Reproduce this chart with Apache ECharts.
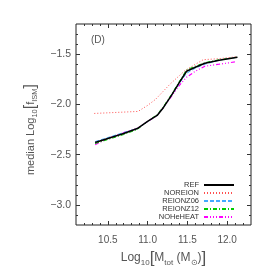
<!DOCTYPE html>
<html><head><meta charset="utf-8">
<script src="https://cdn.jsdelivr.net/npm/echarts@6/dist/echarts.min.js"></script>
<style>html,body{margin:0;padding:0;background:#fff}#c{width:274px;height:274px}</style>
</head><body><div id="c"></div>
<script>
// ---- data ----
const seriesNames = ['REF', 'NOREION', 'REIONZ06', 'REIONZ12', 'NOHeHEAT'];
const xRef      = [10.34, 10.5, 10.7, 10.87, 11.0, 11.12, 11.2, 11.3, 11.4, 11.49, 11.6, 11.72, 11.9, 12.13];
const yRef      = [-2.38, -2.34, -2.29, -2.24, -2.17, -2.11, -2.03, -1.91, -1.78, -1.67, -1.63, -1.59, -1.56, -1.53];
const xNoreion  = [10.33, 10.88, 11.0, 11.1, 11.28, 11.46, 11.56, 11.7, 11.9, 12.13];
const yNoreion  = [-2.09, -2.07, -2.01, -1.95, -1.80, -1.67, -1.62, -1.555, -1.545, -1.525];
const xZ06      = [10.34, 10.5, 10.7, 10.87, 11.0, 11.12, 11.2, 11.3, 11.4, 11.49, 11.6, 11.72, 11.9, 12.13];
const yZ06      = [-2.37, -2.33, -2.28, -2.24, -2.17, -2.11, -2.03, -1.91, -1.79, -1.69, -1.64, -1.60, -1.56, -1.53];
const xZ12      = [10.34, 10.5, 10.7, 10.87, 11.0, 11.12, 11.2, 11.3, 11.4, 11.49, 11.6, 11.72, 11.9, 12.13];
const yZ12      = [-2.39, -2.35, -2.30, -2.25, -2.17, -2.10, -2.02, -1.90, -1.77, -1.655, -1.62, -1.585, -1.555, -1.53];
const xNoheheat = [10.34, 10.5, 10.7, 10.87, 11.0, 11.12, 11.2, 11.3, 11.4, 11.49, 11.6, 11.72, 11.9, 12.12];
const yNoheheat = [-2.40, -2.34, -2.28, -2.24, -2.17, -2.11, -2.03, -1.92, -1.81, -1.73, -1.67, -1.62, -1.60, -1.575];
const xMajorTicks = [10.5, 11.0, 11.5, 12.0];
const yMajorTicks = [-3.0, -2.5, -2.0, -1.5];
const xMinorTicks = [10.2,10.3,10.4,10.6,10.7,10.8,10.9,11.1,11.2,11.3,11.4,11.6,11.7,11.8,11.9,12.1,12.2];
const yMinorTicks = [-3.1,-2.9,-2.8,-2.7,-2.6,-2.4,-2.3,-2.2,-2.1,-1.9,-1.8,-1.7,-1.6,-1.4,-1.3];
const panelLabel = '(D)';

const pairs = (xs, ys) => xs.map((x, i) => [x, ys[i]]);
const FONT = 'Liberation Sans';
const TXT = '#555';
const colors = ['#000000', '#ff5050', '#44aaff', '#00cc00', '#ff00ff'];
const dashes = ['solid', [1, 2], [4, 2], [4, 2, 1, 2], [4, 2, 1, 2, 1, 2, 1, 2]];
const widths = [1.5, 1, 1, 1, 1.2];
const dataSets = [pairs(xRef, yRef), pairs(xNoreion, yNoreion), pairs(xZ06, yZ06), pairs(xZ12, yZ12), pairs(xNoheheat, yNoheheat)];

const XMIN = 10.1, XMAX = 12.3, YMIN = -3.2, YMAX = -1.2;
const fmt = v => (v < 0 ? '\u2212' : '') + Math.abs(v).toFixed(1);

function xAx(pos, ticks, len, labels, extra) {
  return Object.assign({
    type: 'value', min: XMIN, max: XMAX, position: pos,
    axisLine: { show: false }, splitLine: { show: false },
    axisTick: { show: true, inside: true, length: len, customValues: ticks, lineStyle: { color: '#333', width: 1 } },
    axisLabel: labels ? { show: true, customValues: ticks, formatter: fmt, margin: 10, fontSize: 10, fontFamily: FONT, color: TXT }
                      : { show: false }
  }, extra || {});
}
function yAx(pos, ticks, len, labels, extra) {
  return Object.assign({
    type: 'value', min: YMIN, max: YMAX, position: pos,
    axisLine: { show: false }, splitLine: { show: false },
    axisTick: { show: true, inside: true, length: len, customValues: ticks, lineStyle: { color: '#333', width: 1 } },
    axisLabel: labels ? { show: true, customValues: ticks, formatter: fmt, margin: 5, fontSize: 10.5, fontFamily: FONT, color: TXT }
                      : { show: false }
  }, extra || {});
}

const chart = echarts.init(document.getElementById('c'), null, { renderer: 'canvas' });
chart.setOption({
  animation: false,
  backgroundColor: '#fff',
  grid: { left: 76, right: 23, top: 24, bottom: 49, show: true, borderColor: '#222', borderWidth: 1, containLabel: false },
  xAxis: [
    xAx('bottom', xMajorTicks, 4, true, {
      name: '{a|Log}{s|10}{b|[}{a|M}{s|tot}{a| (M}{s|\u2299}{a|)}{b|]}',
      nameLocation: 'middle', nameGap: 19,
      nameTextStyle: { fontFamily: FONT, color: TXT, rich: {
        a: { fontSize: 12, fontFamily: FONT, color: TXT, verticalAlign: 'bottom', padding: [0, 0, 3, 0] },
        s: { fontSize: 8, fontFamily: FONT, color: TXT, verticalAlign: 'bottom', padding: [0, 0, 0, 0] },
        b: { fontSize: 17, fontFamily: FONT, color: TXT, verticalAlign: 'bottom' } } }
    }),
    xAx('bottom', xMinorTicks, 2, false),
    xAx('top', xMajorTicks, 4, false),
    xAx('top', xMinorTicks, 2, false)
  ],
  yAxis: [
    yAx('left', yMajorTicks, 4, true, {
      name: '{a|median Log}{s|10}{b|[}{a|f}{s|ISM}{b|]}',
      nameLocation: 'middle', nameGap: 37, nameRotate: 90,
      nameTextStyle: { fontFamily: FONT, color: TXT, padding: [0, 10, 0, 0], rich: {
        a: { fontSize: 11, fontFamily: FONT, color: TXT, verticalAlign: 'bottom', padding: [0, 0, 3, 0] },
        s: { fontSize: 7.5, fontFamily: FONT, color: TXT, verticalAlign: 'bottom' },
        b: { fontSize: 16, fontFamily: FONT, color: TXT, verticalAlign: 'bottom' } } }
    }),
    yAx('left', yMinorTicks, 2, false),
    yAx('right', yMajorTicks, 4, false),
    yAx('right', yMinorTicks, 2, false)
  ],
  legend: {
    orient: 'vertical', right: 34, top: 176, align: 'right',
    itemWidth: 30, itemHeight: 8, itemGap: 0,
    data: seriesNames,
    itemStyle: { color: 'rgba(0,0,0,0)', borderColor: 'rgba(0,0,0,0)', borderWidth: 0, opacity: 0 },
    textStyle: { fontSize: 7.5, fontFamily: FONT, color: '#333', lineHeight: 8 }
  },
  graphic: [{ type: 'text', left: 91, top: 35, style: { text: panelLabel, fontSize: 10, fontFamily: FONT, fill: TXT } }],
  series: seriesNames.map((n, i) => ({
    name: n, type: 'line', xAxisIndex: 0, yAxisIndex: 0,
    data: dataSets[i], symbol: 'none', showSymbol: false, smooth: false,
    lineStyle: { color: colors[i], width: widths[i], type: dashes[i] },
    itemStyle: { color: colors[i] },
    z: 10 - i
  }))
});
</script></body></html>
